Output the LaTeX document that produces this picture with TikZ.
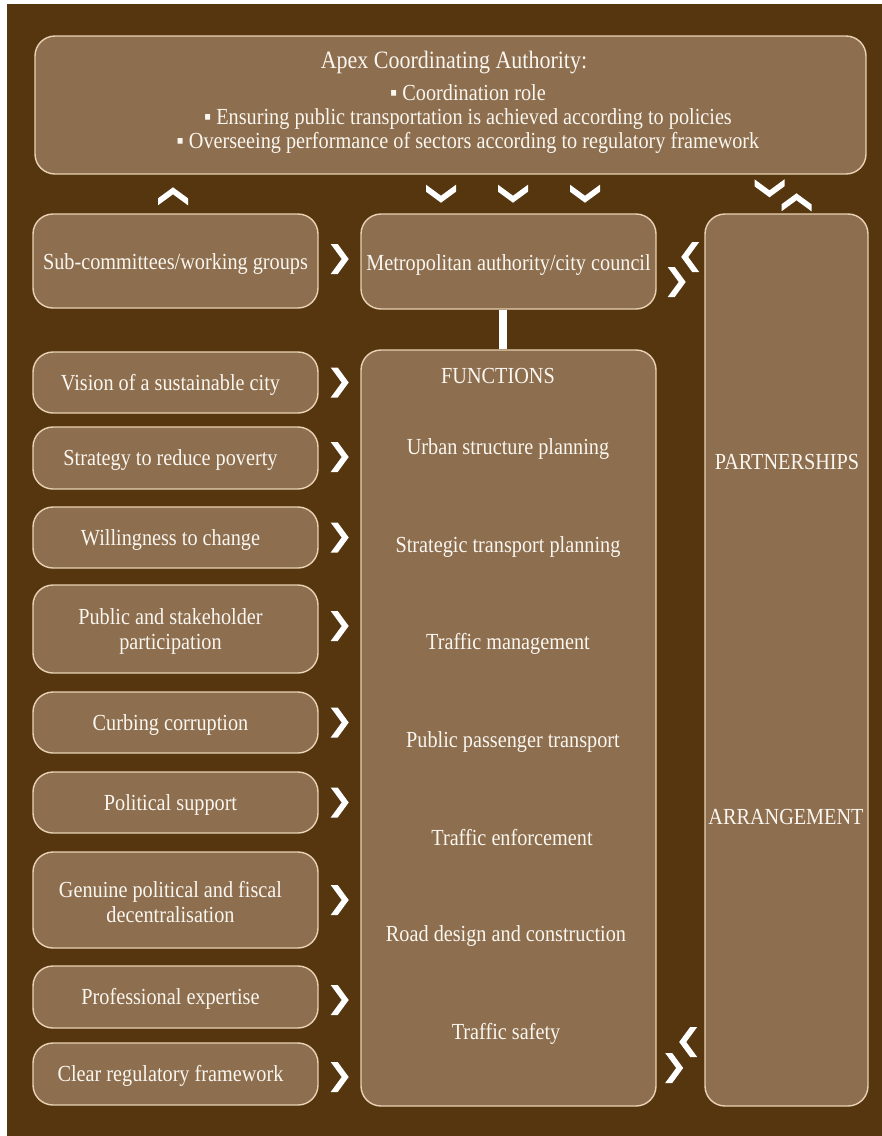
\documentclass[tikz,border=0pt]{standalone}
\usepackage{fontspec}
\setmainfont[FakeStretch=0.88]{Liberation Serif}
\usetikzlibrary{calc}
\definecolor{bgbrown}{HTML}{55360F}
\definecolor{boxbrown}{HTML}{8D6E4E}
\definecolor{edgetan}{HTML}{E9D2B4}
\definecolor{txtwhite}{HTML}{FAF6F0}

% a rounded box of the left column with its caption
\newcommand\leftitem[4]{%
  \node[leftbox, minimum height=#3] (#1) at (175.5,#2) {};
  \node[txt] (#1-t) at ($(#1.center)+(-5,0)$) {#4};}

\begin{document}
\begin{tikzpicture}[x=1pt,y=-1pt,
  txtfont/.style={font=\fontsize{23}{25}\selectfont},
  panel/.style={draw=edgetan, fill=boxbrown, line width=1.4pt,
    rounded corners=20pt, inner sep=0pt},
  leftbox/.style={panel, minimum width=285pt},
  txt/.style={text=txtwhite, inner sep=0pt, align=center, txtfont, yshift=-2pt},
  chevR/.pic={\fill[white] (-9,-15) -- (-2,-15) -- (9,0) -- (-2,15) -- (-9,15) -- (2,0) -- cycle;},
  chevL/.pic={\fill[white] (9,-15) -- (2,-15) -- (-9,0) -- (2,15) -- (9,15) -- (-2,0) -- cycle;},
  chevU/.pic={\fill[white] (-15,9) -- (-15,2) -- (0,-9) -- (15,2) -- (15,9) -- (0,-2) -- cycle;},
  chevD/.pic={\fill[white] (-15,-9) -- (-15,-2) -- (0,9) -- (15,-2) -- (15,-9) -- (0,2) -- cycle;},
]
\useasboundingbox (0,0) rectangle (882,1136);
% page and dark backdrop
\fill[white] (0,0) rectangle (882,1136);
\fill[bgbrown] (7,4) rectangle (882,1136);

% apex authority
\node[panel, minimum width=831pt, minimum height=138pt] (apex) at (450.5,105) {};
\node[txt, font=\fontsize{25}{25}\selectfont] (apextitle) at (454,61) {Apex Coordinating Authority:};
\node[txt] (apexroles) at (468,116.5)
  {▪ Coordination role\\[-1pt]
   ▪ Ensuring public transportation is achieved according to policies\\[-1pt]
   ▪ Overseeing performance of sectors according to regulatory framework};

% left column
\node[leftbox, minimum height=94pt] (sub) at (175.5,261) {};
\node[txt] (sub-t) at (175.5,262) {Sub-committees/working groups};
\leftitem{vision}{382.5}{61pt}{Vision of a sustainable city}
\leftitem{poverty}{458}{62pt}{Strategy to reduce poverty}
\leftitem{change}{537.5}{61pt}{Willingness to change}
\leftitem{public}{629}{88pt}{Public and stakeholder\\participation}
\leftitem{corrupt}{722.5}{61pt}{Curbing corruption}
\leftitem{polit}{802.5}{61pt}{Political support}
\leftitem{decent}{900}{96pt}{Genuine political and fiscal\\decentralisation}
\leftitem{expert}{997}{62pt}{Professional expertise}
\leftitem{regul}{1074}{62pt}{Clear regulatory framework}

% middle column
\node[panel, minimum width=295pt, minimum height=95pt] (metro) at (508.5,261.5) {};
\node[txt] (metro-t) at (508.5,263) {Metropolitan authority/city council};
\node[panel, minimum width=295pt, minimum height=756pt] (func) at (508.5,728) {};
\node[txt] (fhead) at (498,374) {FUNCTIONS};
\node[txt] (f1) at (508,447) {Urban structure planning};
\node[txt] (f2) at (508,545) {Strategic transport planning};
\node[txt] (f3) at (508,642) {Traffic management};
\node[txt] (f4) at (513,740) {Public passenger transport};
\node[txt] (f5) at (512,836) {Traffic enforcement};
\node[txt] (f6) at (506,934) {Road design and construction};
\node[txt] (f7) at (506,1032) {Traffic safety};

% right column
\node[panel, minimum width=163pt, minimum height=892pt] (partner) at (786.5,660) {};
\node[txt] (p1) at (787,460) {PARTNERSHIPS};
\node[txt] (p2) at (786,815) {ARRANGEMENT};

% link between council and its functions
\draw[white, line width=8pt] ([xshift=-6pt]metro.south) -- ([xshift=-6pt]func.north);

% chevrons between the blocks
\pic at ($(sub.north)+(-2.5,-17)$) {chevU};
\pic at ($(apex.south)+(-9.5,19)$) {chevD};
\pic at ($(apex.south)+(62.5,19)$) {chevD};
\pic at ($(apex.south)+(134.5,19)$) {chevD};
\pic at ($(partner.north)+(-17,-25)$) {chevD};
\pic at ($(partner.north)+(10,-11)$) {chevU};
\foreach \b/\dy in {sub/-2,vision/0,poverty/-1,change/0,public/-3,corrupt/0,polit/0,decent/0,expert/3,regul/3}
  \pic at ($(\b.east)+(21,\dy)$) {chevR};
\pic at ($(metro.east)+(33.5,-4.5)$) {chevL};
\pic at ($(metro.east)+(20,20.5)$) {chevR};
\pic at ($(func.east)+(31.5,314)$) {chevL};
\pic at ($(func.east)+(17.5,340)$) {chevR};
\end{tikzpicture}
\end{document}
